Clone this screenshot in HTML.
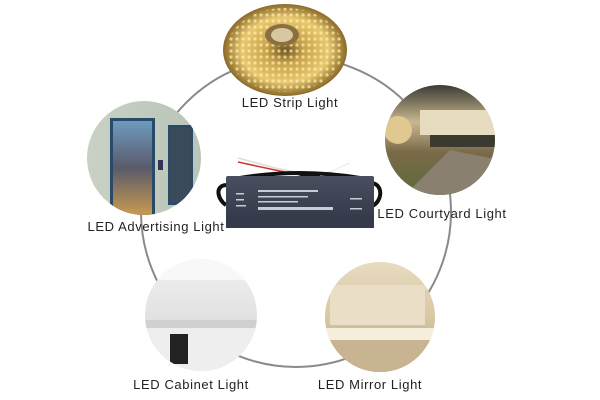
<!DOCTYPE html>
<html><head><meta charset="utf-8"><style>
html,body{margin:0;padding:0;background:#fff;width:600px;height:400px;overflow:hidden}
svg{display:block}
text{font-family:"Liberation Sans",sans-serif;font-size:13px;letter-spacing:0.6px;fill:#222}
</style></head><body>
<svg width="600" height="400" viewBox="0 0 600 400">
<defs>
<radialGradient id="strip" cx="50%" cy="50%" r="50%"><stop offset="0" stop-color="#6b5420"/><stop offset="0.3" stop-color="#c9a24a"/><stop offset="0.7" stop-color="#e8c870"/><stop offset="1" stop-color="#8a6a28"/></radialGradient>
<pattern id="dots" width="6" height="6" patternUnits="userSpaceOnUse"><circle cx="3" cy="3" r="1.6" fill="#fff2b0" opacity="0.7"/></pattern>
<linearGradient id="adv" x1="0" y1="0" x2="1" y2="0"><stop offset="0" stop-color="#c9d2c4"/><stop offset="1" stop-color="#b8c4b6"/></linearGradient>
<linearGradient id="scr" x1="0" y1="0" x2="0" y2="1"><stop offset="0" stop-color="#6e9ac0"/><stop offset="0.5" stop-color="#5a5a6a"/><stop offset="1" stop-color="#c89a50"/></linearGradient>
<linearGradient id="court" x1="0" y1="0" x2="0" y2="1"><stop offset="0" stop-color="#2a2a28"/><stop offset="0.35" stop-color="#c8b890"/><stop offset="0.6" stop-color="#7a6a48"/><stop offset="1" stop-color="#5a6a38"/></linearGradient>
<linearGradient id="cab" x1="0" y1="0" x2="0" y2="1"><stop offset="0" stop-color="#f2f2f2"/><stop offset="0.5" stop-color="#e2e2e2"/><stop offset="1" stop-color="#c8c8c8"/></linearGradient>
<linearGradient id="mir" x1="0" y1="0" x2="0" y2="1"><stop offset="0" stop-color="#e8dcc2"/><stop offset="0.5" stop-color="#d8c8a2"/><stop offset="1" stop-color="#a89070"/></linearGradient>
<linearGradient id="body" x1="0" y1="0" x2="0" y2="1"><stop offset="0" stop-color="#4a5060"/><stop offset="0.5" stop-color="#3c4252"/><stop offset="1" stop-color="#323848"/></linearGradient>
<clipPath id="c1"><circle cx="144" cy="158" r="57"/></clipPath>
<clipPath id="c2"><circle cx="440" cy="140" r="55"/></clipPath>
<clipPath id="c3"><circle cx="201" cy="315" r="56"/></clipPath>
<clipPath id="c4"><circle cx="380" cy="317" r="55"/></clipPath>
</defs>
<circle cx="296" cy="212" r="155" fill="none" stroke="#8a8a8a" stroke-width="2"/>
<!-- strip -->
<ellipse cx="285" cy="50" rx="62" ry="46" fill="url(#strip)"/>
<ellipse cx="285" cy="50" rx="58" ry="42" fill="url(#dots)"/>
<ellipse cx="282" cy="35" rx="17" ry="11" fill="#8a7040"/>
<ellipse cx="282" cy="35" rx="11" ry="7" fill="#d8c8a0"/>
<!-- advertising -->
<g clip-path="url(#c1)"><rect x="80" y="95" width="130" height="130" fill="url(#adv)"/>
<rect x="110" y="118" width="45" height="100" fill="#2a4a6a"/><rect x="113" y="121" width="39" height="94" fill="url(#scr)"/>
<rect x="168" y="125" width="25" height="80" fill="#2a4a6a"/><rect x="170" y="128" width="21" height="74" fill="#3a4a5a"/>
<rect x="158" y="160" width="5" height="10" fill="#335"/></g>
<!-- courtyard -->
<g clip-path="url(#c2)"><rect x="380" y="80" width="120" height="120" fill="url(#court)"/>
<rect x="420" y="110" width="80" height="25" fill="#e8dcc0"/><rect x="430" y="135" width="70" height="12" fill="#3a3a30"/>
<polygon points="400,200 450,150 500,160 500,200" fill="#8a8070"/><circle cx="398" cy="130" r="14" fill="#e0c890"/></g>
<!-- cabinet -->
<g clip-path="url(#c3)"><rect x="140" y="255" width="125" height="125" fill="url(#cab)"/>
<rect x="140" y="258" width="125" height="22" fill="#f8f8f8"/><rect x="140" y="320" width="125" height="8" fill="#d0d0d0"/>
<rect x="140" y="328" width="125" height="50" fill="#eeeeee"/><rect x="170" y="334" width="18" height="30" fill="#222"/></g>
<!-- mirror -->
<g clip-path="url(#c4)"><rect x="320" y="258" width="120" height="120" fill="url(#mir)"/>
<rect x="330" y="285" width="95" height="40" fill="#eadfc6"/><rect x="320" y="328" width="120" height="12" fill="#f6eedc"/>
<rect x="320" y="340" width="120" height="40" fill="#c8b490"/></g>
<!-- power supply -->
<path d="M238 162 L275 170 L300 175" stroke="#c33" stroke-width="1.5" fill="none"/>
<path d="M238 158 L275 168 L300 173" stroke="#ddd" stroke-width="1.5" fill="none"/>
<path d="M350 163 L330 172 L310 176" stroke="#eee" stroke-width="1.5" fill="none"/>
<path d="M300 174 L320 176" stroke="#111" stroke-width="4"/>
<path d="M226 185 C214 186 218 200 226 205" stroke="#111" stroke-width="4" fill="none"/>
<path d="M372 183 C384 185 382 202 372 206" stroke="#111" stroke-width="4" fill="none"/>
<path d="M240 178 Q300 168 360 178" stroke="#111" stroke-width="4" fill="none"/>
<rect x="226" y="176" width="148" height="52" rx="2" fill="url(#body)"/>
<rect x="226" y="214" width="148" height="14" fill="#353b4a"/>
<g fill="#c8ccd6"><rect x="258" y="190" width="60" height="2"/><rect x="258" y="196" width="50" height="1.5"/><rect x="258" y="201" width="40" height="1.5"/><rect x="258" y="207" width="75" height="3"/><rect x="236" y="193" width="8" height="1.5"/><rect x="236" y="199" width="8" height="1.5"/><rect x="236" y="205" width="10" height="1.5"/><rect x="350" y="198" width="12" height="1.5"/><rect x="350" y="208" width="12" height="1.5"/></g>
<text x="290" y="107" text-anchor="middle">LED Strip Light</text>
<text x="442" y="218" text-anchor="middle">LED Courtyard Light</text>
<text x="156" y="231" text-anchor="middle">LED Advertising Light</text>
<text x="191" y="389" text-anchor="middle">LED Cabinet Light</text>
<text x="370" y="389" text-anchor="middle">LED Mirror Light</text>
</svg>
</body></html>
